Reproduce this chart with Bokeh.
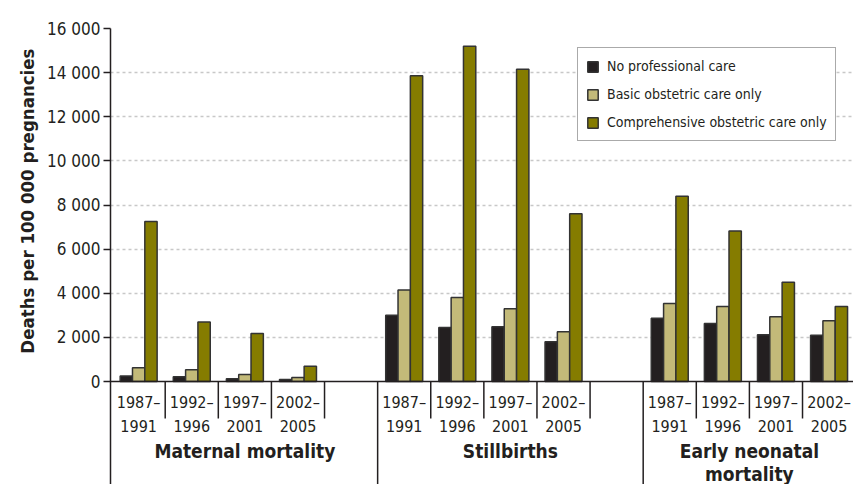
from bokeh.plotting import figure
from bokeh.models import (Range1d, FixedTicker, Span, Title, Legend, LegendItem,
                          ColumnDataSource)
from bokeh.core.properties import value
from bokeh.embed import file_html
from bokeh.resources import INLINE

# ---------------- data ----------------
periods = ["1987–\n1991", "1992–\n1996", "1997–\n2001", "2002–\n2005"]
outcomes = ["Maternal mortality", "Stillbirths", "Early neonatal\nmortality"]
series_names = ["No professional care", "Basic obstetric care only",
                "Comprehensive obstetric care only"]
no_care = [250, 220, 120, 90, 3000, 2450, 2480, 1800, 2870, 2630, 2120, 2100]
basic = [620, 530, 320, 180, 4150, 3810, 3300, 2250, 3530, 3400, 2930, 2750]
comprehensive = [7250, 2700, 2170, 690, 13860, 15200, 14150, 7600, 8400, 6820, 4500, 3400]
y_ticks = [0, 2000, 4000, 6000, 8000, 10000, 12000, 14000, 16000]

FONT = "DejaVu Sans Condensed"
DARK = "#231f20"
colors = ["#231f20", "#c3ba79", "#857c00"]

slots_per_outcome = len(periods) + 1
centers = [o * slots_per_outcome + k + 0.5 for o in range(len(outcomes)) for k in range(len(periods))]
bar_w = 0.232

px_per_unit = 353.0 / 16000.0
y_bottom = -103.0 / px_per_unit

p = figure(width=853, height=484, output_backend="svg", toolbar_location=None,
           x_range=Range1d(-0.03, 13.96), y_range=Range1d(y_bottom, 16000),
           x_axis_location=None, min_border_left=110, min_border_right=0,
           min_border_top=28, min_border_bottom=0)
p.outline_line_color = None
p.background_fill_color = "white"
p.border_fill_color = "white"

# axes / grid
yax = p.yaxis[0]
yax.ticker = FixedTicker(ticks=y_ticks)
yax.major_label_overrides = {t: f"{t:,}".replace(",", " ") for t in y_ticks}
yax.major_label_text_font = FONT
yax.major_label_text_font_size = "17px"
yax.major_label_text_color = DARK
yax.axis_line_color = DARK
yax.axis_line_width = 1.5
yax.major_tick_line_color = DARK
yax.major_tick_line_width = 1.5
yax.major_tick_out = 7
yax.major_tick_in = 0
yax.minor_tick_line_color = None
yax.major_label_standoff = 3

p.xgrid.visible = False
p.ygrid[0].ticker = FixedTicker(ticks=[t for t in y_ticks if t > 0])
p.ygrid[0].grid_line_color = "#c8c8c8"
p.ygrid[0].grid_line_width = 1.5
p.ygrid[0].grid_line_dash = "3 3"

# bars
renderers = []
for i, (vals, col) in enumerate(zip([no_care, basic, comprehensive], colors)):
    src = ColumnDataSource(dict(x=[c + (i - 1) * bar_w for c in centers], top=vals))
    r = p.vbar(x="x", top="top", width=bar_w, bottom=0, source=src,
               fill_color=col, line_color="#333333", line_width=1.5)
    renderers.append(r)

p.add_layout(Span(location=0, dimension="width", line_color=DARK, line_width=1.5))

# separators below baseline
short_x, long_x = [], []
for o in range(len(outcomes)):
    base = o * slots_per_outcome
    if o > 0:
        long_x.append(base)
    for k in range(1, slots_per_outcome + 1):
        if o < len(outcomes) - 1 and k == slots_per_outcome:
            continue
        short_x.append(base + k)
short_len = 37 / px_per_unit
p.segment(x0=short_x, x1=short_x, y0=[0] * len(short_x), y1=[-short_len] * len(short_x),
          line_color=DARK, line_width=1.5)
p.segment(x0=long_x, x1=long_x, y0=[0] * len(long_x), y1=[y_bottom] * len(long_x),
          line_color=DARK, line_width=1.5)

# period labels
p.text(x=centers, y=[-11 / px_per_unit] * len(centers),
       text=[periods[i % len(periods)] for i in range(len(centers))],
       text_font=value(FONT), text_font_size="16px", text_color=DARK,
       text_align="center", text_baseline="top", text_line_height=1.3)

# outcome labels
oc = [o * slots_per_outcome + 2.5 for o in range(len(outcomes) - 1)] + [(len(outcomes) - 1) * slots_per_outcome + 2.0]
p.text(x=oc, y=[-58 / px_per_unit] * len(oc), text=outcomes,
       text_font=value(FONT), text_font_size="19px", text_font_style="bold",
       text_color=DARK, text_align="center", text_baseline="top", text_line_height=1.05)

# y axis title
p.add_layout(Title(text="Deaths per 100 000 pregnancies", align="right", offset=20,
                   text_font=FONT, text_font_size="18.5px", text_font_style="bold",
                   text_color=DARK, standoff=14), "left")

legend = Legend(items=[LegendItem(label=n, renderers=[r]) for n, r in zip(series_names, renderers)],
                location=(467, 343), label_text_font=FONT, label_text_font_size="14px",
                label_text_color=DARK, glyph_width=13, glyph_height=13, label_standoff=8,
                spacing=8, padding=8, margin=0, label_height=20, border_line_color="#555555",
                border_line_width=1.5, background_fill_color="white", background_fill_alpha=1.0)
p.add_layout(legend)

open("out.html", "w").write(file_html(p, INLINE))
